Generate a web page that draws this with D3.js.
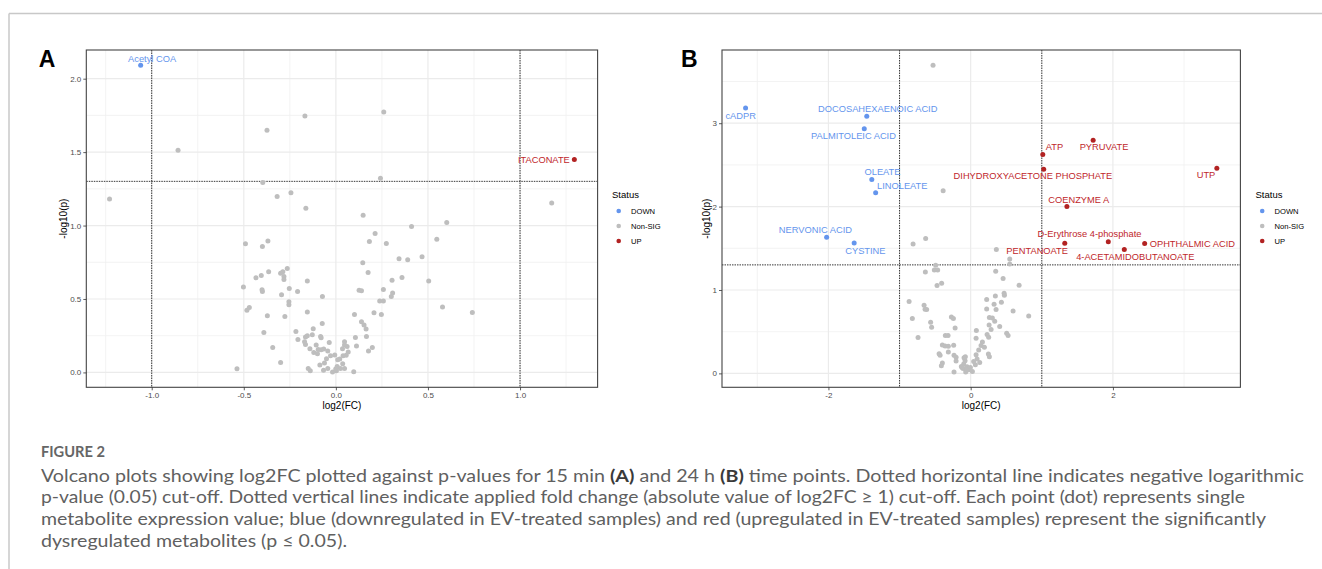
<!DOCTYPE html>
<html>
<head>
<meta charset="utf-8">
<script src="https://cdn.jsdelivr.net/npm/d3@7"></script>
<style>
  html, body { margin: 0; padding: 0; background: #fff; }
  svg { display: block; }
</style>
</head>
<body>
<svg id="fig" width="1322" height="569"></svg>
<script>
// ---------------- DATA ----------------
const statusLevels = ["DOWN", "Non-SIG", "UP"];
const fcCutoff = 1;
const pCutoff = -Math.log10(0.05);

// Panel A (15 min) - labelled metabolites
const A_labelNames = ["Acetyl COA", "ITACONATE"];
const A_labelFC    = [-1.060, 1.295];
const A_labelP     = [2.091, 1.449];
// Panel A - remaining metabolites (log2FC, -log10 p)
const A_otherFC = [
  -1.229, -0.857, -0.374, -0.168, 0.260, -0.397, 0.242, -0.319, -0.244, 1.172, 0.741, 0.602, 0.548, 0.504, 0.579, 0.411, 0.468,
  0.148, 0.213, 0.182, 0.274, 0.343, 0.390, 0.146, 0.175, 0.305, 0.359, 0.126, 0.139, 0.258, 0.308, 0.301, 0.238, 0.258,
  0.101, 0.207, 0.247, 0.139, 0.153, 0.164, 0.106, 0.166, 0.047, 0.047, 0.061, 0.112, 0.198, 0.177, 0.036, 0.067, 0.021,
  0.039, 0.056, 0.037, 0.007, 0.025, 0.047, 0.003, 0.097,
  -0.163, -0.491, -0.369, -0.399, -0.502, -0.434, -0.405, -0.365, -0.300, -0.288, -0.264, -0.282, -0.282, -0.155, -0.401,
  -0.399, -0.253, -0.208, -0.295, -0.073, -0.255, -0.255, -0.470, -0.483, -0.372, -0.277, -0.155, -0.074, -0.391, -0.217,
  -0.123, -0.128, -0.206, -0.165, -0.155, -0.083, -0.080, -0.170, -0.165, -0.107, -0.036, -0.343, -0.141, -0.080, -0.096,
  -0.120, -0.100, -0.066, -0.044, -0.029, -0.006, -0.051, -0.062, -0.087, -0.300, -0.537, -0.150, -0.139, -0.067, -0.044,
  -0.018, -0.001, 0.010
];
const A_otherP = [
  1.180, 1.513, 1.649, 1.746, 1.773, 1.293, 1.322, 1.197, 1.224, 1.154, 0.408, 1.020, 0.907, 0.622, 0.445, 0.993, 0.787,
  1.071, 0.946, 0.891, 0.878, 0.774, 0.767, 0.746, 0.680, 0.628, 0.646, 0.560, 0.556, 0.565, 0.540, 0.517, 0.486, 0.486,
  0.395, 0.406, 0.395, 0.345, 0.322, 0.295, 0.238, 0.245, 0.209, 0.186, 0.177, 0.179, 0.170, 0.145, 0.161, 0.139, 0.091,
  0.114, 0.116, 0.059, 0.041, 0.027, 0.027, 0.012, 0.005,
  1.118, 0.876, 0.894, 0.857, 0.581, 0.644, 0.660, 0.685, 0.676, 0.685, 0.707, 0.653, 0.633, 0.622, 0.563,
  0.551, 0.571, 0.551, 0.529, 0.517, 0.481, 0.460, 0.442, 0.424, 0.386, 0.381, 0.411, 0.333, 0.272, 0.279,
  0.297, 0.256, 0.224, 0.241, 0.250, 0.245, 0.236, 0.209, 0.190, 0.186, 0.204, 0.170, 0.161, 0.154, 0.156,
  0.136, 0.127, 0.159, 0.145, 0.114, 0.118, 0.093, 0.064, 0.050, 0.068, 0.025, 0.027, 0.012, 0.014, 0.027,
  0.003, 0.023, 0.086
];

// Panel B (24 h) - labelled metabolites
const B_labelNames = ["cADPR", "DOCOSAHEXAENOIC ACID", "PALMITOLEIC ACID", "ATP", "PYRUVATE",
  "DIHYDROXYACETONE PHOSPHATE", "UTP", "OLEATE", "LINOLEATE", "COENZYME A", "NERVONIC ACID", "CYSTINE",
  "PENTANOATE", "D-Erythrose 4-phosphate", "4-ACETAMIDOBUTANOATE", "OPHTHALMIC ACID"];
const B_labelFC = [-3.165, -1.461, -1.496, 1.014, 1.722, 1.027, 3.461, -1.390, -1.336, 1.353, -2.025, -1.638,
  1.323, 1.935, 2.160, 2.446];
const B_labelP  = [3.181, 3.082, 2.934, 2.625, 2.797, 2.449, 2.461, 2.325, 2.165, 2.001, 1.633, 1.565,
  1.561, 1.577, 1.485, 1.557];
// Panel B - remaining metabolites
const B_otherFC = [
  -0.529, -0.387,
  -0.810, -0.633, -0.492, -0.511, -0.464, -0.637, -0.408, -0.473, -0.866, -0.655, -0.641, -0.619, -0.820, -0.563,
  -0.549, -0.271, -0.243, -0.219, -0.740, -0.356, -0.318, -0.398, -0.360, -0.314, -0.239, -0.444, -0.430, -0.314,
  -0.234, -0.398, -0.412, -0.205, -0.205, -0.093, -0.079, -0.131, -0.107, -0.051, -0.070, -0.234, -0.028,
  0.361, 0.549, 0.549, 0.352, 0.456, 0.681, 0.347, 0.470, 0.474, 0.225, 0.432, 0.329, 0.357, 0.225, 0.596, 0.816,
  0.263, 0.305, 0.338, 0.408, 0.259, 0.287, 0.506, 0.526, 0.231, 0.253, 0.080, 0.076, 0.165, 0.146, 0.193, 0.113,
  0.249, 0.263, 0.076, 0.090, 0.127, 0.066, -0.075, -0.098, -0.004, -0.060, -0.121, 0.042, 0.024
];
const B_otherP = [
  3.694, 2.189,
  1.553, 1.617, 1.297, 1.241, 1.241, 1.217, 1.080, 1.053, 0.861, 0.816, 0.768, 0.765, 0.657, 0.612,
  0.552, 0.677, 0.657, 0.545, 0.429, 0.453, 0.453, 0.341, 0.329, 0.324, 0.336, 0.236, 0.216, 0.257,
  0.216, 0.125, 0.092, 0.192, 0.149, 0.188, 0.152, 0.084, 0.060, 0.080, 0.017, 0.017, 0.044,
  1.485, 1.373, 1.313, 1.225, 1.137, 1.057, 0.929, 0.961, 0.937, 0.885, 0.853, 0.829, 0.765, 0.773, 0.749, 0.689,
  0.669, 0.665, 0.624, 0.561, 0.581, 0.525, 0.480, 0.453, 0.465, 0.432, 0.513, 0.420, 0.377, 0.333, 0.312, 0.281,
  0.233, 0.200, 0.224, 0.173, 0.132, 0.104, 0.200, 0.113, 0.072, 0.041, 0.072, 0.144, 0.024
];

// Axis tick values
const A_xTicks = [-1.0, -0.5, 0.0, 0.5, 1.0];
const A_yTicks = [0.0, 0.5, 1.0, 1.5, 2.0];
const B_xTicks = [-2, 0, 2];
const B_yTicks = [0, 1, 2, 3];

// ---------------- LAYOUT / STYLE (not data) ----------------
const A_labelNudge = [[11.4, -6.6], [-30.5, 0]];
const B_labelNudge = [[-4.9, 7.6], [11, -7], [-10.8, 7.4], [11.6, -7], [10.9, 7.3], [-10.8, 7], [-10.8, 7.3],
  [10.7, -7], [26.6, -7], [11.9, -6.7], [-11.2, -7], [11.2, 7.7], [-27.6, 7.3], [-18.8, -7.6], [11, 7.7], [47.7, 0]];

const colors = { "DOWN": "#6495ED", "Non-SIG": "#BEBEBE", "UP": "#B22222" };
const textColors = { "DOWN": "#6495ED", "Non-SIG": "#BEBEBE", "UP": "#C0262B" };
const FONT = "'Liberation Sans', Arial, Helvetica, sans-serif";

function statusOf(fc, p) {
  if (p > pCutoff && fc <= -fcCutoff) return "DOWN";
  if (p > pCutoff && fc >= fcCutoff) return "UP";
  return "Non-SIG";
}
const hyphenate = f => v => f(v).replace("\u2212", "-");

const svg = d3.select("#fig");
svg.append("rect").attr("width", 1322).attr("height", 569).attr("fill", "#fff");

// outer figure frame
svg.append("line").attr("x1", 9).attr("x2", 1322).attr("y1", 13.5).attr("y2", 13.5)
  .attr("stroke", "#c8c8c8").attr("stroke-width", 1.5);
svg.append("line").attr("x1", 9).attr("x2", 9).attr("y1", 13.5).attr("y2", 569)
  .attr("stroke", "#c8c8c8").attr("stroke-width", 1.5);

function expandExtent(vals) {
  const [lo, hi] = d3.extent(vals);
  const pad = (hi - lo) * 0.05;
  return [lo - pad, hi + pad];
}

function drawPanel(cfg) {
  const allFC = cfg.labelFC.concat(cfg.otherFC);
  const allP = cfg.labelP.concat(cfg.otherP);
  const x = d3.scaleLinear().domain(expandExtent(allFC)).range([cfg.left, cfg.right]);
  const y = d3.scaleLinear().domain(expandExtent(allP)).range([cfg.bottom, cfg.top]);
  const g = svg.append("g");

  // grid
  const xMinor = cfg.xTicks.slice(0, -1).map((t, i) => (t + cfg.xTicks[i + 1]) / 2);
  const step = cfg.xTicks[1] - cfg.xTicks[0];
  xMinor.unshift(cfg.xTicks[0] - step / 2);
  xMinor.push(cfg.xTicks[cfg.xTicks.length - 1] + step / 2);
  const ystep = cfg.yTicks[1] - cfg.yTicks[0];
  const yMinor = cfg.yTicks.map(t => t + ystep / 2);
  const [xd0, xd1] = x.domain(), [yd0, yd1] = y.domain();
  g.selectAll(".gxm").data(xMinor.filter(v => v > xd0 && v < xd1)).join("line")
    .attr("x1", d => x(d)).attr("x2", d => x(d)).attr("y1", cfg.top).attr("y2", cfg.bottom)
    .attr("stroke", "#F0F0F0").attr("stroke-width", 0.8);
  g.selectAll(".gym").data(yMinor.filter(v => v > yd0 && v < yd1)).join("line")
    .attr("y1", d => y(d)).attr("y2", d => y(d)).attr("x1", cfg.left).attr("x2", cfg.right)
    .attr("stroke", "#F0F0F0").attr("stroke-width", 0.8);
  g.selectAll(".gx").data(cfg.xTicks).join("line")
    .attr("x1", d => x(d)).attr("x2", d => x(d)).attr("y1", cfg.top).attr("y2", cfg.bottom)
    .attr("stroke", "#EBEBEB").attr("stroke-width", 1.2);
  g.selectAll(".gy").data(cfg.yTicks).join("line")
    .attr("y1", d => y(d)).attr("y2", d => y(d)).attr("x1", cfg.left).attr("x2", cfg.right)
    .attr("stroke", "#EBEBEB").attr("stroke-width", 1.2);

  // threshold lines
  [-fcCutoff, fcCutoff].forEach(v => {
    g.append("line").attr("x1", x(v)).attr("x2", x(v)).attr("y1", cfg.top).attr("y2", cfg.bottom)
      .attr("stroke", "#222").attr("stroke-width", 0.9).attr("stroke-dasharray", "1.5,1");
  });
  g.append("line").attr("x1", cfg.left).attr("x2", cfg.right).attr("y1", y(pCutoff)).attr("y2", y(pCutoff))
    .attr("stroke", "#222").attr("stroke-width", 0.9).attr("stroke-dasharray", "1.5,1");

  // points
  const others = cfg.otherFC.map((fc, i) => ({ fc, p: cfg.otherP[i] }));
  const labelled = cfg.labelFC.map((fc, i) => ({ fc, p: cfg.labelP[i], name: cfg.labelNames[i], nudge: cfg.nudge[i] }));
  others.concat(labelled).forEach(d => d.status = statusOf(d.fc, d.p));
  g.selectAll(".pt").data(others.concat(labelled)).join("circle")
    .attr("cx", d => x(d.fc)).attr("cy", d => y(d.p)).attr("r", 2.5)
    .attr("fill", d => colors[d.status]);

  // labels
  g.selectAll(".lab").data(labelled).join("text")
    .attr("x", d => x(d.fc) + d.nudge[0]).attr("y", d => y(d.p) + d.nudge[1])
    .attr("text-anchor", "middle").attr("dominant-baseline", "central")
    .attr("font-family", FONT).attr("font-size", 9.3)
    .attr("fill", d => textColors[d.status]).text(d => d.name);

  // frame
  g.append("rect").attr("x", cfg.left).attr("y", cfg.top)
    .attr("width", cfg.right - cfg.left).attr("height", cfg.bottom - cfg.top)
    .attr("fill", "none").attr("stroke", "#444").attr("stroke-width", 1.1);

  // axes
  const xAxis = d3.axisBottom(x).tickValues(cfg.xTicks).tickFormat(cfg.fmt).tickSizeOuter(0).tickSize(3).tickPadding(2);
  const yAxis = d3.axisLeft(y).tickValues(cfg.yTicks).tickFormat(cfg.fmt).tickSizeOuter(0).tickSize(3).tickPadding(2);
  const gx = g.append("g").attr("transform", `translate(0,${cfg.bottom})`).call(xAxis);
  const gy = g.append("g").attr("transform", `translate(${cfg.left},0)`).call(yAxis);
  [gx, gy].forEach(a => {
    a.select(".domain").remove();
    a.selectAll(".tick line").attr("stroke", "#333").attr("stroke-width", 0.8);
    a.selectAll(".tick text").attr("font-family", FONT).attr("font-size", 8).attr("fill", "#4D4D4D");
  });

  // axis titles
  svg.append("text").attr("x", (cfg.left + cfg.right) / 2).attr("y", 405.7)
    .attr("text-anchor", "middle").attr("dominant-baseline", "central")
    .attr("font-family", FONT).attr("font-size", 10).attr("fill", "#000").text("log2(FC)");
  svg.append("text").attr("transform", `translate(${cfg.yTitleX},${(cfg.top + cfg.bottom) / 2}) rotate(-90)`)
    .attr("text-anchor", "middle").attr("dominant-baseline", "central")
    .attr("font-family", FONT).attr("font-size", 10).attr("fill", "#000").text("-log10(p)");

  // panel letter
  svg.append("text").attr("x", cfg.letterX).attr("y", 66.7)
    .attr("font-family", FONT).attr("font-weight", "bold").attr("font-size", 23)
    .attr("fill", "#000").text(cfg.letter);

  // legend
  const lg = svg.append("g").attr("transform", `translate(${cfg.legendX},0)`);
  lg.append("text").attr("x", 0).attr("y", 194).attr("dominant-baseline", "central")
    .attr("font-family", FONT).attr("font-size", 9.5).attr("fill", "#000").text("Status");
  const ly = d3.scalePoint().domain(statusLevels).range([211, 241]);
  lg.selectAll(".lk").data(statusLevels).join("circle")
    .attr("cx", 6.7).attr("cy", d => ly(d)).attr("r", 2.3).attr("fill", d => colors[d]);
  lg.selectAll(".lt").data(statusLevels).join("text")
    .attr("x", 19).attr("y", d => ly(d)).attr("dominant-baseline", "central")
    .attr("font-family", FONT).attr("font-size", 7.6).attr("fill", "#000").text(d => d);
}

drawPanel({
  labelNames: A_labelNames, labelFC: A_labelFC, labelP: A_labelP, otherFC: A_otherFC, otherP: A_otherP,
  nudge: A_labelNudge, xTicks: A_xTicks, yTicks: A_yTicks, fmt: hyphenate(d3.format(".1f")),
  left: 86.3, right: 597.6, top: 50, bottom: 387.3, yTitleX: 63, letter: "A", letterX: 38.7, legendX: 612
});
drawPanel({
  labelNames: B_labelNames, labelFC: B_labelFC, labelP: B_labelP, otherFC: B_otherFC, otherP: B_otherP,
  nudge: B_labelNudge, xTicks: B_xTicks, yTicks: B_yTicks, fmt: hyphenate(d3.format("d")),
  left: 722, right: 1240.4, top: 50, bottom: 387.3, yTitleX: 706, letter: "B", letterX: 681, legendX: 1255.5
});

// ---------------- CAPTION ----------------
const CAP_FONT = "Lato, 'Open Sans', sans-serif";
svg.append("text").attr("x", 41).attr("y", 456.7).attr("font-family", CAP_FONT)
  .attr("font-weight", "bold").attr("font-size", 14.5).attr("fill", "#666")
  .attr("textLength", 64).attr("lengthAdjust", "spacingAndGlyphs").text("FIGURE 2");

const captionLines = [
  [["Volcano plots showing log2FC plotted against p-values for 15 min ", false], ["(A)", true], [" and 24 h ", false], ["(B)", true],
   [" time points. Dotted horizontal line indicates negative logarithmic", false]],
  [["p-value (0.05) cut-off. Dotted vertical lines indicate applied fold change (absolute value of log2FC ≥ 1) cut-off. Each point (dot) represents single", false]],
  [["metabolite expression value; blue (downregulated in EV-treated samples) and red (upregulated in EV-treated samples) represent the significantly", false]],
  [["dysregulated metabolites (p ≤ 0.05).", false]]
];
const captionWidths = [1263, 1204, 1225, 306];
captionLines.forEach((parts, i) => {
  const t = svg.append("text").attr("x", 41).attr("y", 481.7 + i * 21.7)
    .attr("font-family", CAP_FONT).attr("font-size", 17).attr("fill", "#606060")
    .attr("textLength", captionWidths[i]).attr("lengthAdjust", "spacingAndGlyphs");
  parts.forEach(([s, b]) => {
    const ts = t.append("tspan").text(s);
    if (b) ts.attr("font-weight", "bold").attr("fill", "#3a3a3a");
  });
});
</script>
</body>
</html>
